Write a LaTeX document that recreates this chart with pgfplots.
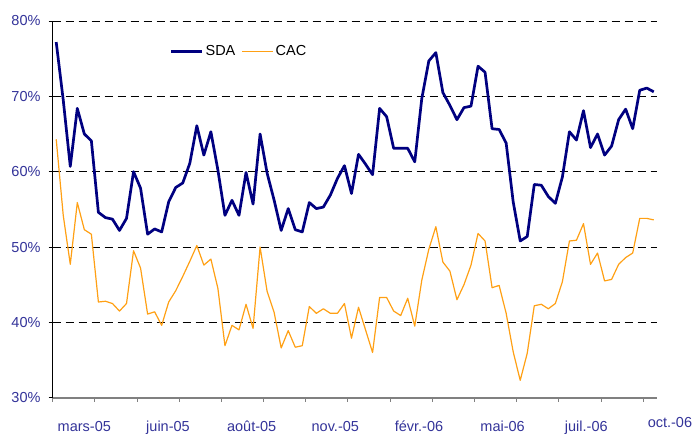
\documentclass[border=0pt]{standalone}
\usepackage{fontspec}
\setmainfont{Liberation Sans}
\usepackage{pgfplots}
\pgfplotsset{compat=1.18}
\definecolor{sdablue}{RGB}{0,0,128}
\definecolor{cacorange}{RGB}{255,160,20}
\definecolor{ticknavy}{RGB}{51,51,153}
\begin{document}
\begin{tikzpicture}
\begin{axis}[
  scale only axis, width=604.6pt, height=376.7pt,
  xmin=-0.5, xmax=85.5, ymin=30, ymax=80,
  axis lines*=left,
  x axis line style={draw=gray, line width=1.8pt},
  y axis line style={draw=black, line width=0.9pt},
  clip=false,
  tick align=outside,
  major tick length=4pt, minor tick length=4pt,
  ytick={30,40,50,60,70,80},
  yticklabels={30\%,40\%,50\%,60\%,70\%,80\%},
  ymajorgrids,
  major grid style={black, line width=0.8pt, dash pattern=on 8pt off 5pt},
  y tick style={black, line width=0.8pt},
  xtick={4,15.9,27.8,39.7,51.6,63.5,75.4},
  xticklabels={mars-05,juin-05,août-05,nov.-05,févr.-06,mai-06,juil.-06},
  major x tick style={draw=none},
  minor xtick={-0.5,5.5,...,83.5},
  minor x tick style={gray, line width=1pt},
  tick label style={font=\fontsize{14.5}{17}\selectfont, text=ticknavy},
  yticklabel style={anchor=east, inner sep=0pt, xshift=-8pt},
  xticklabel style={anchor=base, inner sep=0pt, yshift=-29.5pt},
  legend columns=2,
  legend style={at={(rel axis cs:0,1)}, anchor=west, xshift=117pt, yshift=-30.5pt,
    draw=none, fill=none, inner sep=0pt, font=\fontsize{14.5}{17}\selectfont,
    /tikz/every even column/.append style={column sep=4pt}},
  legend image code/.code={\draw[#1] (0pt,0pt) -- (31pt,0pt);},
]
\addplot[sdablue, line width=2.7pt, line join=round] coordinates {
(0,77.2)(1,69.5)(2,60.7)(3,68.4)(4,65.0)(5,64.1)(6,54.6)(7,53.9)(8,53.7)(9,52.2)
(10,53.8)(11,60.0)(12,57.8)(13,51.7)(14,52.4)(15,52.0)(16,56.0)(17,57.9)(18,58.5)(19,61.1)
(20,66.1)(21,62.2)(22,65.3)(23,60.2)(24,54.2)(25,56.2)(26,54.2)(27,59.9)(28,55.7)(29,65.0)
(30,59.8)(31,56.2)(32,52.2)(33,55.1)(34,52.3)(35,52.0)(36,55.9)(37,55.1)(38,55.3)(39,56.9)
(40,59.1)(41,60.8)(42,57.1)(43,62.3)(44,61.0)(45,59.6)(46,68.4)(47,67.3)(48,63.1)(49,63.1)
(50,63.1)(51,61.3)(52,69.7)(53,74.7)(54,75.8)(55,70.5)(56,68.8)(57,66.9)(58,68.5)(59,68.7)
(60,74.0)(61,73.2)(62,65.7)(63,65.6)(64,63.8)(65,56.0)(66,50.8)(67,51.4)(68,58.3)(69,58.2)
(70,56.7)(71,55.8)(72,59.3)(73,65.3)(74,64.2)(75,68.1)(76,63.2)(77,65.0)(78,62.2)(79,63.4)
(80,66.9)(81,68.3)(82,65.7)(83,70.8)(84,71.1)(85,70.6)
};
\addlegendentry{SDA}
\addplot[cacorange, line width=1.2pt, line join=round] coordinates {
(0,64.3)(1,54.2)(2,47.7)(3,55.9)(4,52.3)(5,51.7)(6,42.7)(7,42.8)(8,42.5)(9,41.5)
(10,42.5)(11,49.5)(12,47.2)(13,41.1)(14,41.4)(15,39.6)(16,42.7)(17,44.2)(18,46.1)(19,48.1)
(20,50.2)(21,47.6)(22,48.4)(23,44.5)(24,36.9)(25,39.6)(26,39.0)(27,42.4)(28,39.2)(29,50.0)
(30,44.1)(31,41.3)(32,36.6)(33,38.9)(34,36.7)(35,36.9)(36,42.1)(37,41.2)(38,41.8)(39,41.2)
(40,41.2)(41,42.5)(42,37.9)(43,42.0)(44,39.0)(45,36.0)(46,43.3)(47,43.3)(48,41.5)(49,40.9)
(50,43.2)(51,39.5)(52,45.6)(53,49.7)(54,52.7)(55,48.0)(56,46.8)(57,43.0)(58,45.0)(59,47.6)
(60,51.8)(61,50.8)(62,44.6)(63,44.9)(64,41.2)(65,36.1)(66,32.3)(67,35.9)(68,42.2)(69,42.4)
(70,41.8)(71,42.5)(72,45.4)(73,50.8)(74,50.9)(75,53.1)(76,47.7)(77,49.2)(78,45.5)(79,45.7)
(80,47.7)(81,48.6)(82,49.2)(83,53.8)(84,53.8)(85,53.6)
};
\addlegendentry{CAC}
\node[anchor=base, inner sep=0pt, yshift=-29.5pt, text=ticknavy, font=\fontsize{14.5}{17}\selectfont] at (axis cs:87.3,30) {oct.-06};
\end{axis}
\path ([xshift=-52.7pt,yshift=-31.3pt]current axis.south west) rectangle ([xshift=37.7pt,yshift=21pt]current axis.north east);
\end{tikzpicture}
\end{document}
